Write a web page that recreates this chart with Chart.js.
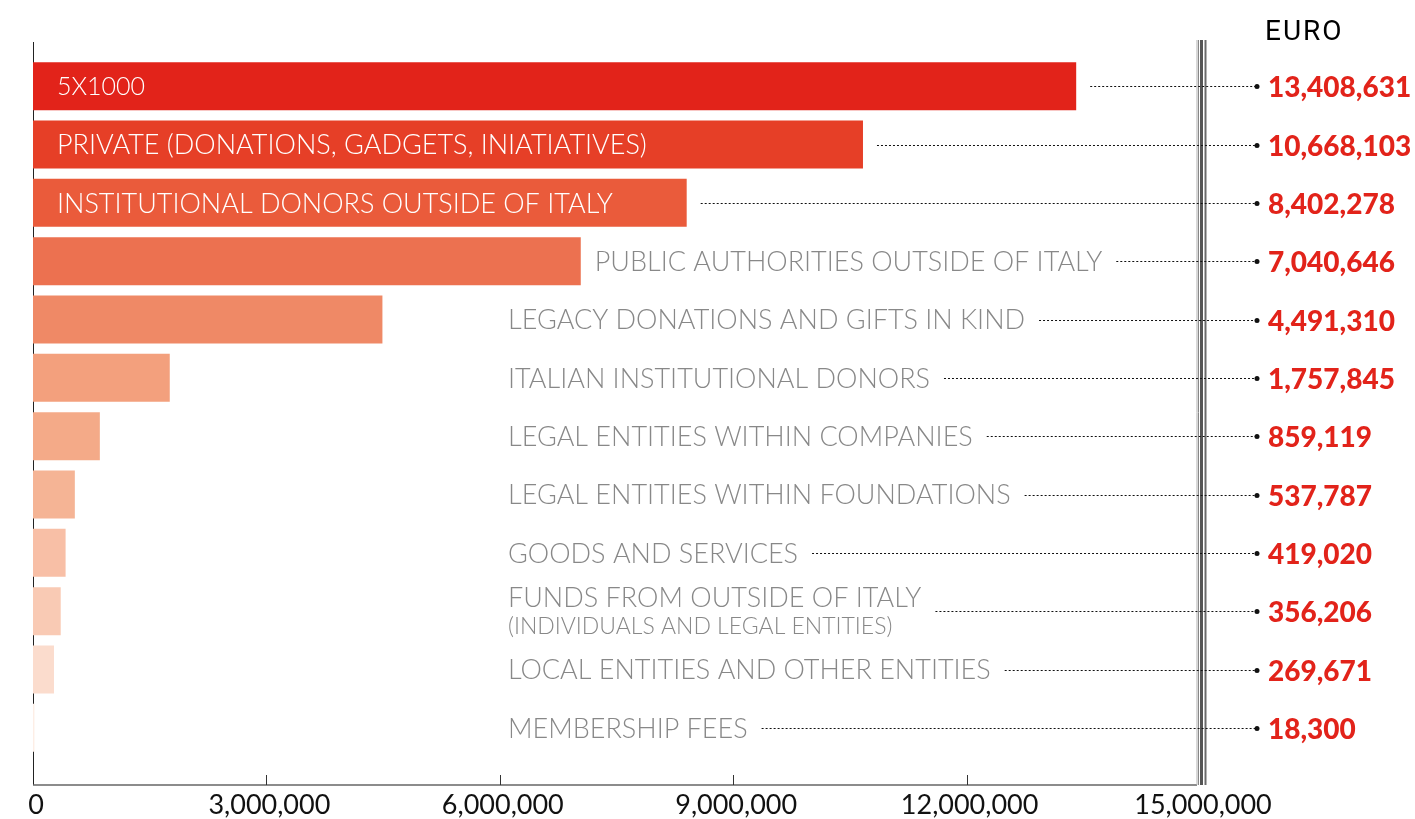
<!DOCTYPE html>
<html>
<head>
<meta charset="utf-8">
<title>Funding sources</title>
<script src="https://cdn.jsdelivr.net/npm/chart.js@4.4.1/dist/chart.umd.min.js"></script>
<style>
  html, body { margin: 0; padding: 0; background: #fff; }
  #wrap { width: 1415px; height: 819px; }
</style>
</head>
<body>
<div id="wrap"><canvas id="funds" width="1415" height="819"></canvas></div>
<script>
// income by source, euro
const categories = [
    "5X1000",
    "PRIVATE (DONATIONS, GADGETS, INIATIATIVES)",
    "INSTITUTIONAL DONORS OUTSIDE OF ITALY",
    "PUBLIC AUTHORITIES OUTSIDE OF ITALY",
    "LEGACY DONATIONS AND GIFTS IN KIND",
    "ITALIAN INSTITUTIONAL DONORS",
    "LEGAL ENTITIES WITHIN COMPANIES",
    "LEGAL ENTITIES WITHIN FOUNDATIONS",
    "GOODS AND SERVICES",
    "FUNDS FROM OUTSIDE OF ITALY",
    "LOCAL ENTITIES AND OTHER ENTITIES",
    "MEMBERSHIP FEES"
];
const subLabels = ["", "", "", "", "", "", "", "", "", "(INDIVIDUALS AND LEGAL ENTITIES)", "", ""];
const amounts = [13408631, 10668103, 8402278, 7040646, 4491310, 1757845, 859119, 537787, 419020, 356206, 269671, 18300];
const tickValues = [0, 3000000, 6000000, 9000000, 12000000, 15000000];
const unitLabel = "EURO";

// red -> pale peach, one shade per row
const barColors = ["#e2231a", "#e63f27", "#ea5b3b", "#ec7150", "#ef8966", "#f3a07d",
                   "#f4aa88", "#f5b495", "#f8bfa6", "#f9cab4", "#fbdccd", "#fdeee6"];

const INSIDE = 3;          // first rows carry their label inside the bar
const SANS = "Lato, 'Open Sans', sans-serif";
const LABEL_FONT = "300 27px " + SANS;
const VALUE_FONT = "900 28px " + SANS;

function fmt(v) { return v.toLocaleString("en-US"); }

// axis lines, ticks, break marker drawn under the bars
const axisPlugin = {
    id: "axisLines",
    beforeDatasetsDraw(chart) {
        const { ctx, chartArea, scales: { x } } = chart;
        const baseY = chartArea.bottom + 28;
        const left = x.getPixelForValue(0);
        const right = x.getPixelForValue(15000000);
        ctx.save();
        ctx.strokeStyle = "#222";
        ctx.lineWidth = 1;
        ctx.beginPath();
        ctx.moveTo(left + 0.5, chartArea.top - 15);
        ctx.lineTo(left + 0.5, baseY);
        ctx.stroke();

        ctx.strokeStyle = "#666";
        ctx.lineWidth = 1.5;
        ctx.beginPath();
        ctx.moveTo(left, baseY);
        ctx.lineTo(right - 3, baseY);
        ctx.stroke();

        ctx.strokeStyle = "#333";
        ctx.lineWidth = 1;
        tickValues.slice(1, -1).forEach(v => {
            const px = Math.round(x.getPixelForValue(v)) + 0.5;
            ctx.beginPath();
            ctx.moveTo(px, baseY - 10);
            ctx.lineTo(px, baseY);
            ctx.stroke();
        });

        // tick labels under the axis
        ctx.fillStyle = "#111";
        ctx.font = "27px " + SANS;
        ctx.textAlign = "center";
        ctx.textBaseline = "middle";
        tickValues.forEach(v => {
            ctx.fillText(fmt(v), x.getPixelForValue(v) + 3, baseY + 20);
        });

        // triple rule at the end of the scale
        const top = chartArea.top - 17;
        [[-3, 1, "#b0b0b0"], [-1.5, 1, "#888"], [1.5, 3, "#555"], [5.5, 2, "#6a6a6a"]].forEach(([dx, w, c]) => {
            ctx.strokeStyle = c;
            ctx.lineWidth = w;
            ctx.beginPath();
            ctx.moveTo(right + dx, top);
            ctx.lineTo(right + dx, baseY);
            ctx.stroke();
        });
        ctx.restore();
    },
    afterDatasetsDraw(chart) {
        const { ctx, chartArea } = chart;
        const meta = chart.getDatasetMeta(0);
        const leaderEnd = chartArea.right + 55;
        const valueX = chartArea.right + 68;
        const outsideX = chartArea.left + 475;
        ctx.save();
        ctx.textBaseline = "middle";
        meta.data.forEach((bar, i) => {
            const y = bar.y;
            let textEnd;
            ctx.font = i === 0 ? "300 25px " + SANS : LABEL_FONT;
            if (i < INSIDE) {
                ctx.fillStyle = "#fff";
                const tx = bar.base + 24;
                ctx.fillText(categories[i], tx, y + 1);
                textEnd = Math.max(tx + ctx.measureText(categories[i]).width, bar.x);
            } else {
                ctx.fillStyle = "#888";
                const tx = Math.max(outsideX, bar.x + 14);
                if (subLabels[i]) {
                    ctx.fillText(categories[i], tx, y - 13);
                    const w1 = ctx.measureText(categories[i]).width;
                    ctx.font = "300 23px " + SANS;
                    ctx.fillText(subLabels[i], tx, y + 15);
                    textEnd = tx + w1;
                } else {
                    ctx.fillText(categories[i], tx, y + 1);
                    textEnd = tx + ctx.measureText(categories[i]).width;
                }
            }

            // dotted leader with end dot
            const ly = Math.round(y) + 0.5;
            ctx.strokeStyle = "#111";
            ctx.lineWidth = 1;
            ctx.setLineDash([2, 2]);
            ctx.beginPath();
            ctx.moveTo(textEnd + 14, ly);
            ctx.lineTo(leaderEnd, ly);
            ctx.stroke();
            ctx.setLineDash([]);
            ctx.fillStyle = "#111";
            ctx.beginPath();
            ctx.arc(leaderEnd + 2, ly, 2.5, 0, Math.PI * 2);
            ctx.fill();

            ctx.fillStyle = "#e2231a";
            ctx.font = VALUE_FONT;
            ctx.fillText(fmt(amounts[i]), valueX, y + 2);
        });

        ctx.fillStyle = "#000";
        ctx.font = "28px Roboto, sans-serif";
        ctx.letterSpacing = "2px";
        ctx.textBaseline = "alphabetic";
        ctx.fillText(unitLabel, chartArea.right + 65, 40);
        ctx.restore();
    }
};

const ctx = document.getElementById("funds").getContext("2d");
const fundsChart = new Chart(ctx, {
    type: "bar",
    data: {
        labels: categories,
        datasets: [{
            data: amounts,
            backgroundColor: barColors,
            borderWidth: 0,
            categoryPercentage: 0.823,
            barPercentage: 1
        }]
    },
    options: {
        indexAxis: "y",
        responsive: false,
        animation: false,
        layout: { padding: { top: 57, left: 33, right: 215, bottom: 62 } },
        plugins: { legend: { display: false }, tooltip: { enabled: false } },
        scales: {
            y: { display: false },
            x: { display: false, min: 0, max: 15000000 }
        }
    },
    plugins: [axisPlugin]
});
</script>
</body>
</html>
